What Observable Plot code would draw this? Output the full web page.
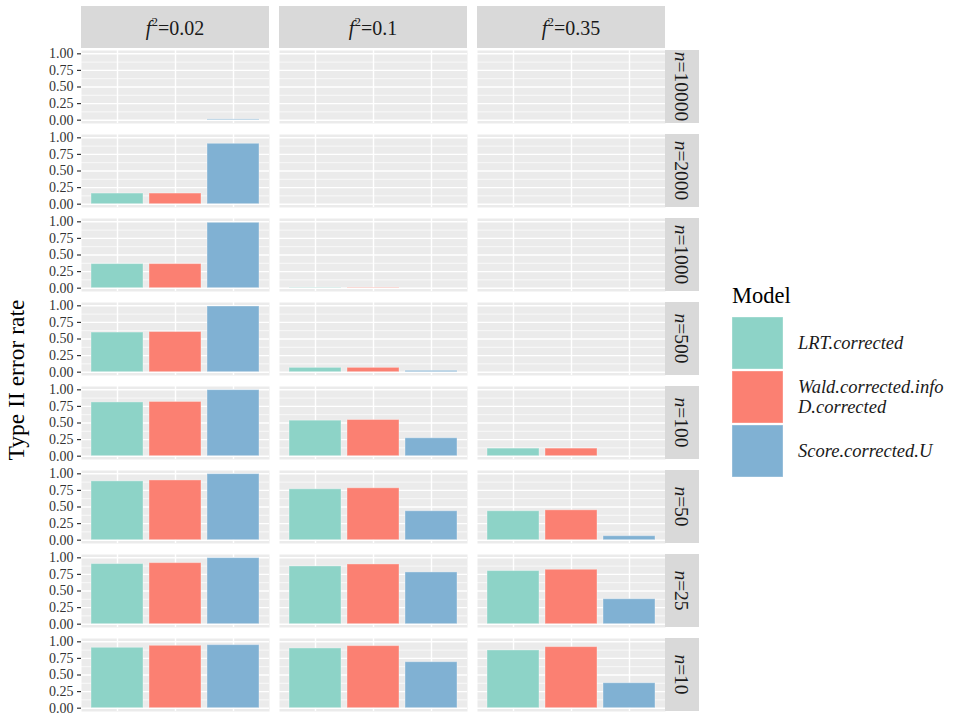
<!DOCTYPE html>
<html><head><meta charset="utf-8">
<script src="https://cdn.jsdelivr.net/npm/d3@7"></script>
<script src="https://cdn.jsdelivr.net/npm/@observablehq/plot@0.6"></script>
<style>
body{margin:0;background:#fff;}
#wrap{position:relative;width:957px;height:721px;}
</style></head><body><div id="wrap"></div>
<script>
const f2Levels = ["0.02", "0.1", "0.35"];
const nLevels = ["10000", "2000", "1000", "500", "100", "50", "25", "10"];
const models = ["LRT.corrected", "Wald.corrected.info\nD.corrected", "Score.corrected.U"];
const modelColors = ["#8DD3C7", "#FB8072", "#80B1D3"];
const yTicks = [0, 0.25, 0.5, 0.75, 1];
const yMinor = [0.125, 0.375, 0.625, 0.875];

// values ordered as nLevels (10000 ... 10)
const lrt_002   = [0, 0.16, 0.363, 0.597, 0.81, 0.886, 0.906, 0.91];
const lrt_01    = [0, 0, 0.006, 0.065, 0.535, 0.767, 0.87, 0.90];
const lrt_035   = [0, 0, 0, 0, 0.114, 0.436, 0.80, 0.87];
const wald_002  = [0, 0.16, 0.363, 0.605, 0.817, 0.90, 0.92, 0.94];
const wald_01   = [0, 0, 0.006, 0.065, 0.545, 0.782, 0.90, 0.935];
const wald_035  = [0, 0, 0, 0, 0.114, 0.45, 0.82, 0.92];
const score_002 = [0.012, 0.91, 0.985, 0.99, 0.995, 0.995, 0.995, 0.95];
const score_01  = [0, 0, 0, 0.02, 0.27, 0.436, 0.78, 0.693];
const score_035 = [0, 0, 0, 0, 0, 0.06, 0.376, 0.376];

const series = [
  [lrt_002, lrt_01, lrt_035],
  [wald_002, wald_01, wald_035],
  [score_002, score_01, score_035]
];
const data = [];
models.forEach((m, mi) => f2Levels.forEach((f, fi) => nLevels.forEach((n, ni) => {
  data.push({model: m, f2: f, n: n, value: series[mi][fi][ni]});
})));

const font = "'Liberation Serif', 'DejaVu Serif', serif";

const chart = Plot.plot({
  width: 957, height: 721,
  marginTop: 48, marginLeft: 81, marginRight: 292, marginBottom: 8,
  style: {fontFamily: font, fontSize: "14px", color: "#333", background: "white"},
  x: {domain: models, axis: null, paddingInner: 0.1, paddingOuter: 0.15},
  y: {domain: [-0.05, 1.05], label: null},
  fx: {domain: f2Levels, paddingInner: 0.053, paddingOuter: 0, axis: null, label: null},
  fy: {domain: nLevels, paddingInner: 0.13, paddingOuter: 0, axis: null, label: null},
  color: {domain: models, range: modelColors},
  marks: [
    Plot.frame({fill: "#EBEBEB", stroke: "none"}),
    Plot.ruleY(yMinor, {stroke: "white", strokeWidth: 0.7}),
    Plot.ruleY(yTicks, {stroke: "white", strokeWidth: 1.4}),
    Plot.ruleX(models, {stroke: "white", strokeWidth: 1.4}),
    // keeps every facet cell present (invisible)
    Plot.dot(data, {fx: "f2", fy: "n", x: "model", y: 0, r: 0, stroke: "none"}),
    Plot.barY(data.filter(d => d.value > 0), {
      fx: "f2", fy: "n", x: "model", y: "value", fill: "model",
      stroke: "white", strokeOpacity: 0.35, strokeWidth: 1
    }),
    Plot.axisY(yTicks, {
      anchor: "left", tickFormat: d => d.toFixed(2), tickSize: 4, tickPadding: 4,
      stroke: "#333", strokeWidth: 1.2, fill: "#333", fontSize: 14, label: null
    })
  ]
});

document.getElementById("wrap").appendChild(chart);

const svg = d3.select(chart);
const fx = chart.scale("fx");
const fy = chart.scale("fy");
const stripFill = "#D9D9D9";

// column strips
f2Levels.forEach(f => {
  const x0 = fx.apply(f), bw = fx.bandwidth;
  svg.append("rect").attr("x", x0).attr("y", 6).attr("width", bw).attr("height", 42).attr("fill", stripFill);
  const t = svg.append("text").attr("x", x0 + bw / 2).attr("y", 35)
    .attr("text-anchor", "middle").attr("font-family", font).attr("font-size", 20).attr("fill", "#1A1A1A");
  t.append("tspan").attr("font-style", "italic").text("f");
  t.append("tspan").attr("font-size", 13).attr("dy", -9).text("2");
  t.append("tspan").attr("dy", 9).text("=" + f);
});

// row strips
const xr0 = fx.apply(f2Levels[f2Levels.length - 1]) + fx.bandwidth;
nLevels.forEach(n => {
  const y0 = fy.apply(n), bh = fy.bandwidth;
  svg.append("rect").attr("x", xr0).attr("y", y0).attr("width", 34).attr("height", bh).attr("fill", stripFill);
  const t = svg.append("text")
    .attr("transform", `translate(${xr0 + 10},${y0 + bh / 2}) rotate(90)`)
    .attr("text-anchor", "middle").attr("font-family", font).attr("font-size", 19.5).attr("fill", "#1A1A1A");
  t.append("tspan").attr("font-style", "italic").text("n");
  t.append("tspan").text("=" + n);
});

// y axis title
svg.append("text")
  .attr("transform", "translate(24,380) rotate(-90)")
  .attr("text-anchor", "middle").attr("font-family", font).attr("font-size", 23.5).attr("fill", "black")
  .text("Type II error rate");

// legend
svg.append("text").attr("x", 732).attr("y", 303).attr("text-anchor", "start")
  .attr("font-family", font).attr("font-size", 22.5).attr("fill", "black").text("Model");
const keyY = [317, 371, 425];
models.forEach((m, i) => {
  svg.append("rect").attr("x", 732).attr("y", keyY[i]).attr("width", 51).attr("height", 52)
    .attr("fill", modelColors[i]).attr("stroke", "white").attr("stroke-opacity", 0.35);
  const lines = m.split("\n");
  const t = svg.append("text").attr("text-anchor", "start").attr("font-family", font)
    .attr("font-size", 18.5).attr("font-style", "italic").attr("fill", "#1A1A1A");
  const cy = keyY[i] + 26;
  lines.forEach((ln, j) => {
    t.append("tspan").attr("x", 798)
      .attr("y", cy + 6 + (j - (lines.length - 1) / 2) * 20).text(ln);
  });
});
</script>
</body></html>
